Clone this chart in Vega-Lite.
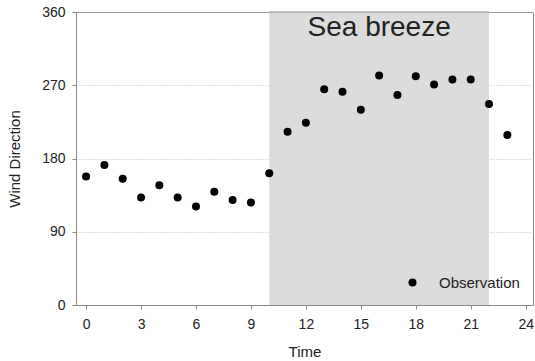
{
  "$schema": "https://vega.github.io/schema/vega-lite/v6.json",
  "width": 457,
  "height": 293,
  "autosize": {"type": "none"},
  "padding": {"left": 76, "top": 12, "right": 2, "bottom": 56},
  "background": "white",
  "view": {"stroke": "#888", "strokeWidth": 1},
  "config": {
    "font": "Liberation Sans",
    "axis": {
      "labelFont": "Liberation Sans",
      "labelFontSize": 14,
      "labelColor": "#222",
      "titleFont": "Liberation Sans",
      "titleFontSize": 15,
      "titleFontWeight": "normal",
      "titleColor": "#222",
      "domainColor": "#888",
      "tickColor": "#888",
      "tickSize": 4,
      "zindex": 1
    }
  },
  "datasets": {
    "obs": [
      {"hour": 0, "dir": 158, "series": "Observation"},
      {"hour": 1, "dir": 172, "series": "Observation"},
      {"hour": 2, "dir": 155, "series": "Observation"},
      {"hour": 3, "dir": 132, "series": "Observation"},
      {"hour": 4, "dir": 147, "series": "Observation"},
      {"hour": 5, "dir": 132, "series": "Observation"},
      {"hour": 6, "dir": 121, "series": "Observation"},
      {"hour": 7, "dir": 139, "series": "Observation"},
      {"hour": 8, "dir": 129, "series": "Observation"},
      {"hour": 9, "dir": 126, "series": "Observation"},
      {"hour": 10, "dir": 162, "series": "Observation"},
      {"hour": 11, "dir": 213, "series": "Observation"},
      {"hour": 12, "dir": 224, "series": "Observation"},
      {"hour": 13, "dir": 265, "series": "Observation"},
      {"hour": 14, "dir": 262, "series": "Observation"},
      {"hour": 15, "dir": 240, "series": "Observation"},
      {"hour": 16, "dir": 282, "series": "Observation"},
      {"hour": 17, "dir": 258, "series": "Observation"},
      {"hour": 18, "dir": 281, "series": "Observation"},
      {"hour": 19, "dir": 271, "series": "Observation"},
      {"hour": 20, "dir": 277, "series": "Observation"},
      {"hour": 21, "dir": 277, "series": "Observation"},
      {"hour": 22, "dir": 247, "series": "Observation"},
      {"hour": 23, "dir": 209, "series": "Observation"}
    ],
    "shade": [{"start": 10, "end": 22, "low": 0, "high": 360, "label": "Sea breeze", "mid": 16, "ty": 340}]
  },
  "layer": [
    {
      "data": {"name": "shade"},
      "mark": {"type": "rect", "color": "#dcdcdc"},
      "encoding": {
        "x": {"field": "start", "type": "quantitative", "scale": {"domain": [-0.55, 24.4], "nice": false, "zero": false},
          "axis": {"values": [0, 3, 6, 9, 12, 15, 18, 21, 24], "grid": false, "title": "Time", "labelPadding": 8, "titlePadding": 13}},
        "x2": {"field": "end"},
        "y": {"field": "low", "type": "quantitative", "scale": {"domain": [0, 360], "nice": false},
          "axis": {"values": [0, 90, 180, 270, 360], "grid": true, "gridColor": "#bbb", "gridDash": [1, 2], "gridWidth": 1, "title": "Wind Direction", "labelPadding": 7, "titlePadding": 19}},
        "y2": {"field": "high"}
      }
    },
    {
      "data": {"name": "shade"},
      "mark": {"type": "rule", "color": "#888", "strokeWidth": 1},
      "encoding": {
        "x": {"field": "start", "type": "quantitative"},
        "x2": {"field": "end"},
        "y": {"field": "high", "type": "quantitative"}
      }
    },
    {
      "data": {"name": "shade"},
      "mark": {"type": "text", "fontSize": 28, "font": "Liberation Sans", "color": "#222", "baseline": "middle", "align": "center"},
      "encoding": {
        "x": {"field": "mid", "type": "quantitative"},
        "y": {"field": "ty", "type": "quantitative"},
        "text": {"field": "label"}
      }
    },
    {
      "data": {"name": "obs"},
      "mark": {"type": "point", "shape": "circle", "filled": true, "size": 64, "opacity": 1},
      "encoding": {
        "x": {"field": "hour", "type": "quantitative"},
        "y": {"field": "dir", "type": "quantitative"},
        "color": {"field": "series", "type": "nominal", "scale": {"range": ["#000000"]},
          "legend": {"title": null, "orient": "none", "legendX": 329, "legendY": 263, "padding": 0, "symbolSize": 64, "symbolType": "circle", "symbolOpacity": 1, "labelFontSize": 15, "labelFont": "Liberation Sans", "labelColor": "#222", "labelOffset": 19}}
      }
    }
  ]
}
